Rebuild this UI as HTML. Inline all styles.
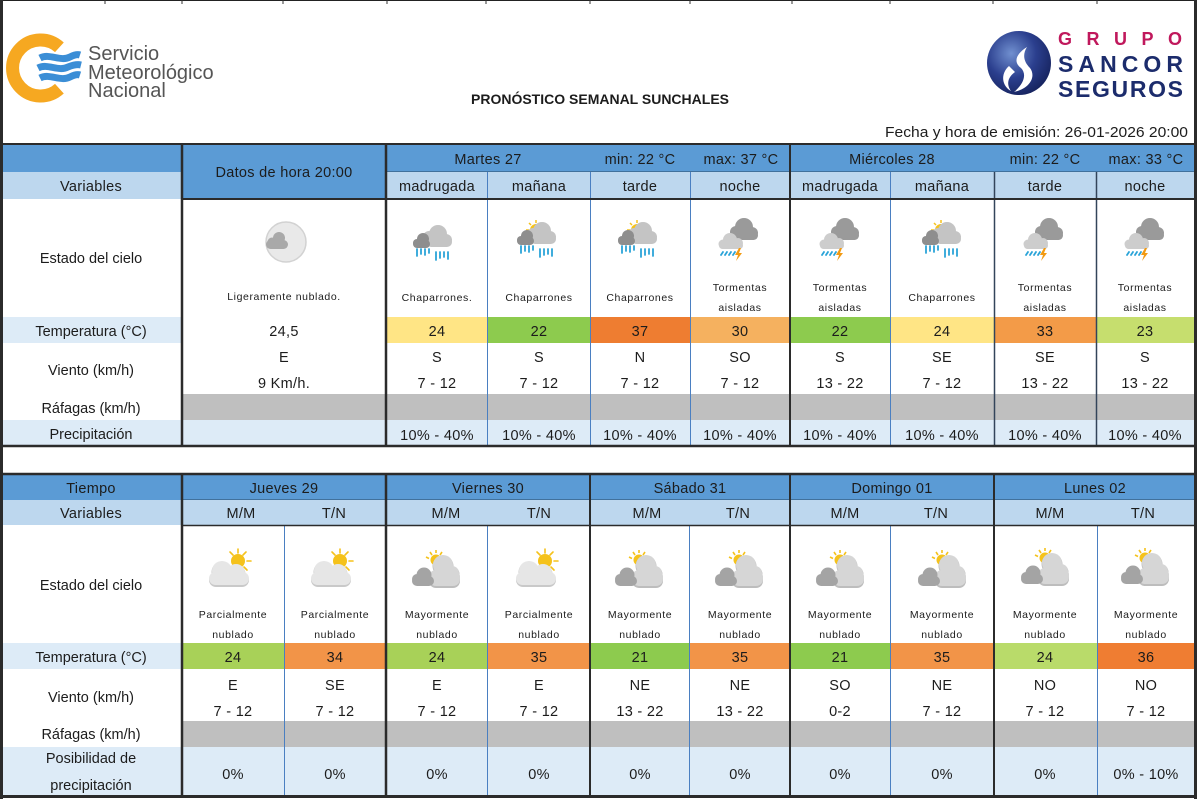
<!DOCTYPE html>
<html><head><meta charset="utf-8">
<style>
html,body{margin:0;padding:0;background:#fff;}
svg{display:block;}
text{font-family:"Liberation Sans",sans-serif;fill:#1c1c1c;}
.m{font-size:14.5px;text-anchor:middle;letter-spacing:0.3px;}
.l{font-size:14.5px;text-anchor:middle;}
.s{font-size:10.5px;text-anchor:middle;letter-spacing:0.6px;}
</style></head><body>
<svg width="1200" height="799" viewBox="0 0 1200 799" xmlns="http://www.w3.org/2000/svg">
<defs>
<radialGradient id="sg" cx="0.38" cy="0.35" r="0.7">
<stop offset="0" stop-color="#7190d0"/><stop offset="0.55" stop-color="#2b3f8e"/><stop offset="1" stop-color="#16235e"/>
</radialGradient>
<g id="rainG">
<g fill="#c4c4c4"><circle cx="26" cy="11" r="9"/><circle cx="34" cy="17" r="6"/><circle cx="17" cy="14" r="6"/><rect x="14" y="14" width="26" height="10" rx="5"/></g>
<g fill="#8e8e8e"><circle cx="11" cy="16" r="6"/><circle cx="5" cy="20" r="4"/><rect x="1" y="17" width="17" height="8" rx="4"/></g>
<path d="M5 26v7M9 26v5M13 26v6M17 26v4M24 29v8M28 29v6M32 29v5M36 29v7" stroke="#2ba4d8" stroke-width="1.8" stroke-linecap="round" fill="none"/>
</g>
<g id="sunSm">
<path d="M20 0v3M13 3l2 2M27 3l-2 2M10 10h3" stroke="#f5c21b" stroke-width="1.5" fill="none"/>
<circle cx="20" cy="10" r="6" fill="#f5c21b"/>
</g>
<g id="thG">
<g fill="#9a9a9a"><circle cx="26" cy="10" r="9"/><circle cx="34" cy="16" r="6"/><circle cx="18" cy="15" r="6"/><rect x="15" y="14" width="25" height="9" rx="4.5"/></g>
<g fill="#cdcdcd"><circle cx="12" cy="23" r="7"/><circle cx="5" cy="27" r="4.5"/><circle cx="20" cy="26" r="5"/><rect x="1" y="25" width="24" height="7" rx="3.5"/></g>
<path d="M3 38l2-3M7 38l2-3M11 38l2-3M15 38l2-3" stroke="#2ba4d8" stroke-width="1.8" stroke-linecap="round" fill="none"/>
<path d="M21 31l-4 7h3l-2 6 6-8h-3l2-5z" fill="#f29a12"/>
</g>
<g id="pcG">
<path d="M30 1v4M22 4l3 3M38 4l-3 3M43 13h-4M39 22l-3-3" stroke="#f5c21b" stroke-width="1.6" stroke-linecap="round" fill="none"/>
<circle cx="30" cy="13" r="7" fill="#f5c21b"/>
<g fill="#c9c9c9"><circle cx="14" cy="24" r="10.5"/><circle cx="28" cy="26" r="9.5"/><rect x="1" y="25" width="40" height="14" rx="7"/></g>
<g fill="#e6e6e6"><circle cx="14" cy="23" r="10"/><circle cx="28" cy="25" r="9"/><rect x="1" y="24" width="40" height="13" rx="6.5"/></g>
</g>
<g id="mcG">
<path d="M24 0v3M18 2l2 3M30 2l-2 3M14 7l3 1.5" stroke="#f5c21b" stroke-width="1.6" fill="none"/>
<circle cx="24" cy="10" r="5.5" fill="#f5c21b"/>
<g fill="#bdbdbd"><circle cx="31" cy="16" r="10.5"/><circle cx="40" cy="24" r="7.5"/><rect x="17" y="21" width="31" height="17" rx="7"/></g>
<g fill="#d6d6d6"><circle cx="31" cy="15" r="10"/><circle cx="40" cy="23" r="7"/><rect x="17" y="20" width="31" height="16" rx="7"/></g>
<g fill="#a4a4a4"><circle cx="12" cy="25" r="7.5"/><circle cx="5" cy="29" r="5"/><rect x="0" y="26" width="22" height="10" rx="5"/></g>
</g>
</defs>

<!-- Header area -->
<path d="M0 0.5H1197" stroke="#222" stroke-width="1"/>
<path d="M105 0v4M182 0v4M283 0v4M387 0v4M486 0v4M590 0v4M690 0v4M792 0v4M890 0v4M993 0v4M1097 0v4" stroke="#333" stroke-width="1"/>

<!-- SMN logo -->
<path d="M59.4 47.3 A28 28 0 1 0 59.4 88.7" fill="none" stroke="#f6a821" stroke-width="13"/>
<g fill="none" stroke="#3b8ed6" stroke-width="7">
<path d="M40 58 C50 53 60 62 70 57 C74 55 77 54 80 55"/>
<path d="M38 68 C48 63 58 72 68 67 C73 65 77 64 81 65"/>
<path d="M40 78 C50 73 60 82 70 77 C74 75 77 74 80 75"/>
</g>
<text x="88" y="60" font-size="20" style="fill:#555">Servicio</text>
<text x="88" y="79" font-size="20" style="fill:#555">Meteorológico</text>
<text x="88" y="97" font-size="20" style="fill:#555">Nacional</text>

<!-- Title -->
<text x="600" y="104" font-weight="bold" font-size="14" text-anchor="middle" textLength="258" lengthAdjust="spacingAndGlyphs">PRONÓSTICO SEMANAL SUNCHALES</text>

<!-- Sancor logo -->
<circle cx="1019" cy="63" r="32" fill="url(#sg)"/>
<path d="M1027 47 C1016 54 1013 62 1021 68 C1027 74 1024 84 1014 92 C1031 88 1036 76 1030 68 C1024 62 1022 55 1027 47Z" fill="#fff"/>
<path d="M1009 66 C1000 74 1002 86 1011 91 C1006 84 1008 77 1015 72Z" fill="#fff"/>
<text x="1058" y="45" font-weight="bold" font-size="18" style="fill:#c0185c" textLength="124" lengthAdjust="spacing">GRUPO</text>
<text x="1058" y="72" font-weight="bold" font-size="23" style="fill:#1c2c6c" textLength="125" lengthAdjust="spacing">SANCOR</text>
<text x="1058" y="97" font-weight="bold" font-size="23" style="fill:#1c2c6c" textLength="125" lengthAdjust="spacing">SEGUROS</text>

<text x="885" y="137" font-size="15" textLength="303" lengthAdjust="spacingAndGlyphs">Fecha y hora de emisión: 26-01-2026 20:00</text>

<!-- ===== TOP TABLE backgrounds ===== -->
<rect x="2" y="145" width="180" height="27" fill="#5b9bd5"/>
<rect x="2" y="172" width="180" height="27" fill="#bdd7ee"/>
<rect x="182" y="145" width="204" height="54" fill="#5b9bd5"/>
<rect x="386" y="145" width="808" height="27" fill="#5b9bd5"/>
<rect x="386" y="172" width="808" height="27" fill="#bdd7ee"/>
<rect x="2" y="317" width="180" height="26" fill="#ddebf7"/>
<rect x="386" y="317" width="101" height="26" fill="#ffe585"/>
<rect x="487" y="317" width="103" height="26" fill="#8dcb4e"/>
<rect x="590" y="317" width="100" height="26" fill="#ee7d31"/>
<rect x="690" y="317" width="100" height="26" fill="#f5b15f"/>
<rect x="790" y="317" width="100" height="26" fill="#8dcb4e"/>
<rect x="890" y="317" width="104" height="26" fill="#ffe585"/>
<rect x="994" y="317" width="102" height="26" fill="#f39b48"/>
<rect x="1096" y="317" width="98" height="26" fill="#c6de6e"/>
<rect x="182" y="394" width="1012" height="26" fill="#bfbfbf"/>
<rect x="2" y="420" width="1192" height="25" fill="#ddebf7"/>

<!-- ===== BOTTOM TABLE backgrounds ===== -->
<rect x="2" y="475" width="1192" height="25" fill="#5b9bd5"/>
<rect x="2" y="500" width="1192" height="25" fill="#bdd7ee"/>
<rect x="2" y="643" width="180" height="26" fill="#ddebf7"/>
<rect x="182" y="643" width="102" height="26" fill="#a8d158"/>
<rect x="284" y="643" width="102" height="26" fill="#f29448"/>
<rect x="386" y="643" width="101" height="26" fill="#a8d158"/>
<rect x="487" y="643" width="103" height="26" fill="#f29448"/>
<rect x="590" y="643" width="99" height="26" fill="#8dcb4e"/>
<rect x="689" y="643" width="101" height="26" fill="#f29448"/>
<rect x="790" y="643" width="100" height="26" fill="#8dcb4e"/>
<rect x="890" y="643" width="104" height="26" fill="#f29448"/>
<rect x="994" y="643" width="103" height="26" fill="#b9db6a"/>
<rect x="1097" y="643" width="97" height="26" fill="#ef7d32"/>
<rect x="182" y="721" width="1012" height="26" fill="#bfbfbf"/>
<rect x="2" y="747" width="1192" height="48" fill="#ddebf7"/>

<!-- ===== Lines ===== -->
<g stroke="#41719c" stroke-width="1" fill="none">
<path d="M386 171.5H1194M182 499.5H1194"/>
</g>
<g stroke="#4a7fc1" stroke-width="1" fill="none">
<path d="M487.5 172V445M590.5 172V445M690.5 172V445M890.5 172V445"/>
<path d="M284.5 526V795M487.5 526V795M689.5 526V795M890.5 526V795M1097.5 526V795"/>
</g>
<g stroke="#2b2b2b" fill="none">
<path d="M994.5 172V445M1096.5 172V445" stroke-width="1.5" stroke="#33445a"/>
<path d="M790 144V446" stroke-width="2"/>
<path d="M590 474V796M790 474V796M994 474V796" stroke-width="2"/>
<path d="M182 144V446M386 144V446M182 474V796M386 474V796" stroke-width="2.5"/>
<path d="M0 144H1197" stroke-width="2"/>
<path d="M182 199H1194" stroke-width="2"/>
<path d="M182 525.5H1194" stroke-width="1.5"/>
<path d="M0 446H1197M0 474H1197" stroke-width="2.5"/>
<path d="M0 796.5H1197" stroke-width="3"/>
<path d="M1.5 0V799" stroke-width="3"/>
<path d="M1195.5 0V799" stroke-width="3"/>
</g>

<!-- ===== TOP TABLE text ===== -->
<text class="m" x="284" y="177">Datos de hora 20:00</text>
<text class="m" x="91" y="191">Variables</text>
<text class="m" x="488" y="164">Martes 27</text>
<text class="m" x="640" y="164">min: 22 °C</text>
<text class="m" x="741" y="164">max: 37 °C</text>
<text class="m" x="892" y="164">Miércoles 28</text>
<text class="m" x="1045" y="164">min: 22 °C</text>
<text class="m" x="1146" y="164">max: 33 °C</text>
<text class="m" x="437" y="191">madrugada</text>
<text class="m" x="539" y="191">mañana</text>
<text class="m" x="640" y="191">tarde</text>
<text class="m" x="740" y="191">noche</text>
<text class="m" x="840" y="191">madrugada</text>
<text class="m" x="942" y="191">mañana</text>
<text class="m" x="1045" y="191">tarde</text>
<text class="m" x="1145" y="191">noche</text>

<text class="l" x="91" y="263">Estado del cielo</text>
<text class="l" x="91" y="336">Temperatura (°C)</text>
<text class="l" x="91" y="375">Viento (km/h)</text>
<text class="l" x="91" y="413">Ráfagas (km/h)</text>
<text class="l" x="91" y="439">Precipitación</text>

<!-- icons top -->
<circle cx="286" cy="242" r="20" fill="#e9e9e9" stroke="#d2d2d2" stroke-width="1.5"/>
<g fill="#a9a9a9"><circle cx="279" cy="238" r="6"/><circle cx="272" cy="242" r="4.5"/><rect x="266" y="240" width="22" height="9" rx="4.5"/></g>
<use href="#rainG" transform="translate(412,223)"/>
<g transform="translate(516,220)"><use href="#sunSm"/><use href="#rainG"/></g>
<g transform="translate(617,220)"><use href="#sunSm"/><use href="#rainG"/></g>
<use href="#thG" transform="translate(718,217)"/>
<use href="#thG" transform="translate(819,217)"/>
<g transform="translate(921,220)"><use href="#sunSm"/><use href="#rainG"/></g>
<use href="#thG" transform="translate(1023,217)"/>
<use href="#thG" transform="translate(1124,217)"/>

<text class="s" x="284" y="300">Ligeramente nublado.</text>
<text class="s" x="437" y="301">Chaparrones.</text>
<text class="s" x="539" y="301">Chaparrones</text>
<text class="s" x="640" y="301">Chaparrones</text>
<text class="s" x="740" y="291">Tormentas</text><text class="s" x="740" y="311">aisladas</text>
<text class="s" x="840" y="291">Tormentas</text><text class="s" x="840" y="311">aisladas</text>
<text class="s" x="942" y="301">Chaparrones</text>
<text class="s" x="1045" y="291">Tormentas</text><text class="s" x="1045" y="311">aisladas</text>
<text class="s" x="1145" y="291">Tormentas</text><text class="s" x="1145" y="311">aisladas</text>

<text class="m" x="284" y="336">24,5</text>
<text class="m" x="437" y="336">24</text>
<text class="m" x="539" y="336">22</text>
<text class="m" x="640" y="336">37</text>
<text class="m" x="740" y="336">30</text>
<text class="m" x="840" y="336">22</text>
<text class="m" x="942" y="336">24</text>
<text class="m" x="1045" y="336">33</text>
<text class="m" x="1145" y="336">23</text>

<text class="m" x="284" y="362">E</text>
<text class="m" x="284" y="388">9 Km/h.</text>
<text class="m" x="437" y="362">S</text><text class="m" x="437" y="388">7 - 12</text>
<text class="m" x="539" y="362">S</text><text class="m" x="539" y="388">7 - 12</text>
<text class="m" x="640" y="362">N</text><text class="m" x="640" y="388">7 - 12</text>
<text class="m" x="740" y="362">SO</text><text class="m" x="740" y="388">7 - 12</text>
<text class="m" x="840" y="362">S</text><text class="m" x="840" y="388">13 - 22</text>
<text class="m" x="942" y="362">SE</text><text class="m" x="942" y="388">7 - 12</text>
<text class="m" x="1045" y="362">SE</text><text class="m" x="1045" y="388">13 - 22</text>
<text class="m" x="1145" y="362">S</text><text class="m" x="1145" y="388">13 - 22</text>

<text class="m" x="437" y="440">10% - 40%</text>
<text class="m" x="539" y="440">10% - 40%</text>
<text class="m" x="640" y="440">10% - 40%</text>
<text class="m" x="740" y="440">10% - 40%</text>
<text class="m" x="840" y="440">10% - 40%</text>
<text class="m" x="942" y="440">10% - 40%</text>
<text class="m" x="1045" y="440">10% - 40%</text>
<text class="m" x="1145" y="440">10% - 40%</text>

<!-- ===== BOTTOM TABLE text ===== -->
<text class="m" x="91" y="493">Tiempo</text>
<text class="m" x="91" y="518">Variables</text>
<text class="m" x="284" y="493">Jueves 29</text>
<text class="m" x="488" y="493">Viernes 30</text>
<text class="m" x="690" y="493">Sábado 31</text>
<text class="m" x="892" y="493">Domingo 01</text>
<text class="m" x="1095" y="493">Lunes 02</text>
<text class="m" x="241" y="518">M/M</text><text class="m" x="334" y="518">T/N</text>
<text class="m" x="446" y="518">M/M</text><text class="m" x="539" y="518">T/N</text>
<text class="m" x="647" y="518">M/M</text><text class="m" x="738" y="518">T/N</text>
<text class="m" x="845" y="518">M/M</text><text class="m" x="936" y="518">T/N</text>
<text class="m" x="1050" y="518">M/M</text><text class="m" x="1143" y="518">T/N</text>

<text class="l" x="91" y="590">Estado del cielo</text>
<text class="l" x="91" y="662">Temperatura (°C)</text>
<text class="l" x="91" y="702">Viento (km/h)</text>
<text class="l" x="91" y="739">Ráfagas (km/h)</text>
<text class="l" x="91" y="763">Posibilidad de</text>
<text class="l" x="91" y="790">precipitación</text>

<!-- icons bottom -->
<use href="#pcG" transform="translate(208,548)"/>
<use href="#pcG" transform="translate(310,548)"/>
<use href="#mcG" transform="translate(412,550)"/>
<use href="#pcG" transform="translate(515,548)"/>
<use href="#mcG" transform="translate(615,550)"/>
<use href="#mcG" transform="translate(715,550)"/>
<use href="#mcG" transform="translate(816,550)"/>
<use href="#mcG" transform="translate(918,550)"/>
<use href="#mcG" transform="translate(1021,548)"/>
<use href="#mcG" transform="translate(1121,548)"/>

<text class="s" x="233" y="618">Parcialmente</text><text class="s" x="233" y="638">nublado</text>
<text class="s" x="335" y="618">Parcialmente</text><text class="s" x="335" y="638">nublado</text>
<text class="s" x="437" y="618">Mayormente</text><text class="s" x="437" y="638">nublado</text>
<text class="s" x="539" y="618">Parcialmente</text><text class="s" x="539" y="638">nublado</text>
<text class="s" x="640" y="618">Mayormente</text><text class="s" x="640" y="638">nublado</text>
<text class="s" x="740" y="618">Mayormente</text><text class="s" x="740" y="638">nublado</text>
<text class="s" x="840" y="618">Mayormente</text><text class="s" x="840" y="638">nublado</text>
<text class="s" x="942" y="618">Mayormente</text><text class="s" x="942" y="638">nublado</text>
<text class="s" x="1045" y="618">Mayormente</text><text class="s" x="1045" y="638">nublado</text>
<text class="s" x="1146" y="618">Mayormente</text><text class="s" x="1146" y="638">nublado</text>

<text class="m" x="233" y="662">24</text>
<text class="m" x="335" y="662">34</text>
<text class="m" x="437" y="662">24</text>
<text class="m" x="539" y="662">35</text>
<text class="m" x="640" y="662">21</text>
<text class="m" x="740" y="662">35</text>
<text class="m" x="840" y="662">21</text>
<text class="m" x="942" y="662">35</text>
<text class="m" x="1045" y="662">24</text>
<text class="m" x="1146" y="662">36</text>

<text class="m" x="233" y="690">E</text><text class="m" x="233" y="716">7 - 12</text>
<text class="m" x="335" y="690">SE</text><text class="m" x="335" y="716">7 - 12</text>
<text class="m" x="437" y="690">E</text><text class="m" x="437" y="716">7 - 12</text>
<text class="m" x="539" y="690">E</text><text class="m" x="539" y="716">7 - 12</text>
<text class="m" x="640" y="690">NE</text><text class="m" x="640" y="716">13 - 22</text>
<text class="m" x="740" y="690">NE</text><text class="m" x="740" y="716">13 - 22</text>
<text class="m" x="840" y="690">SO</text><text class="m" x="840" y="716">0-2</text>
<text class="m" x="942" y="690">NE</text><text class="m" x="942" y="716">7 - 12</text>
<text class="m" x="1045" y="690">NO</text><text class="m" x="1045" y="716">7 - 12</text>
<text class="m" x="1146" y="690">NO</text><text class="m" x="1146" y="716">7 - 12</text>

<text class="m" x="233" y="779">0%</text>
<text class="m" x="335" y="779">0%</text>
<text class="m" x="437" y="779">0%</text>
<text class="m" x="539" y="779">0%</text>
<text class="m" x="640" y="779">0%</text>
<text class="m" x="740" y="779">0%</text>
<text class="m" x="840" y="779">0%</text>
<text class="m" x="942" y="779">0%</text>
<text class="m" x="1045" y="779">0%</text>
<text class="m" x="1146" y="779">0% - 10%</text>
</svg>
</body></html>
